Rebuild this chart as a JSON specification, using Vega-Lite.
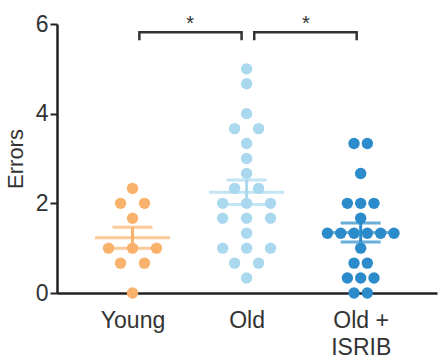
{
  "$schema": "https://vega.github.io/schema/vega-lite/v6.json",
  "autosize": "none",
  "width": 380,
  "height": 269,
  "padding": {"left": 57, "top": 24, "right": 10, "bottom": 67},
  "background": "white",
  "config": {
    "view": {"stroke": null},
    "font": "Liberation Sans"
  },
  "datasets": {
    "scores": [
      {"group": "Young", "value": 2.333}, {"group": "Young", "value": 2}, {"group": "Young", "value": 2},
      {"group": "Young", "value": 1.667}, {"group": "Young", "value": 1}, {"group": "Young", "value": 1},
      {"group": "Young", "value": 1}, {"group": "Young", "value": 0.667}, {"group": "Young", "value": 0.667},
      {"group": "Young", "value": 0},
      {"group": "Old", "value": 5}, {"group": "Old", "value": 4.667}, {"group": "Old", "value": 4},
      {"group": "Old", "value": 3.667}, {"group": "Old", "value": 3.667}, {"group": "Old", "value": 3.333},
      {"group": "Old", "value": 3}, {"group": "Old", "value": 2.667}, {"group": "Old", "value": 2.333},
      {"group": "Old", "value": 2.333}, {"group": "Old", "value": 2}, {"group": "Old", "value": 2},
      {"group": "Old", "value": 2}, {"group": "Old", "value": 1.667}, {"group": "Old", "value": 1.667},
      {"group": "Old", "value": 1.667}, {"group": "Old", "value": 1.333}, {"group": "Old", "value": 1},
      {"group": "Old", "value": 1}, {"group": "Old", "value": 1}, {"group": "Old", "value": 0.667},
      {"group": "Old", "value": 0.667}, {"group": "Old", "value": 0.333},
      {"group": "Old + ISRIB", "value": 3.333}, {"group": "Old + ISRIB", "value": 3.333},
      {"group": "Old + ISRIB", "value": 2.667}, {"group": "Old + ISRIB", "value": 2},
      {"group": "Old + ISRIB", "value": 2}, {"group": "Old + ISRIB", "value": 2},
      {"group": "Old + ISRIB", "value": 1.667}, {"group": "Old + ISRIB", "value": 1.333},
      {"group": "Old + ISRIB", "value": 1.333}, {"group": "Old + ISRIB", "value": 1.333},
      {"group": "Old + ISRIB", "value": 1.333}, {"group": "Old + ISRIB", "value": 1.333},
      {"group": "Old + ISRIB", "value": 1.333}, {"group": "Old + ISRIB", "value": 1},
      {"group": "Old + ISRIB", "value": 0.667}, {"group": "Old + ISRIB", "value": 0.667},
      {"group": "Old + ISRIB", "value": 0.333}, {"group": "Old + ISRIB", "value": 0.333},
      {"group": "Old + ISRIB", "value": 0.333}, {"group": "Old + ISRIB", "value": 0},
      {"group": "Old + ISRIB", "value": 0}
    ],
    "brackets": [
      {"pair": "a", "order": 1, "x": 1.06, "y": 5.64},
      {"pair": "a", "order": 2, "x": 1.06, "y": 5.815},
      {"pair": "a", "order": 3, "x": 1.956, "y": 5.815},
      {"pair": "a", "order": 4, "x": 1.956, "y": 5.64},
      {"pair": "b", "order": 1, "x": 2.067, "y": 5.64},
      {"pair": "b", "order": 2, "x": 2.067, "y": 5.815},
      {"pair": "b", "order": 3, "x": 2.965, "y": 5.815},
      {"pair": "b", "order": 4, "x": 2.965, "y": 5.64}
    ],
    "stars": [
      {"x": 1.505, "y": 6.09, "label": "*"},
      {"x": 2.52, "y": 6.09, "label": "*"}
    ]
  },
  "layer": [
    {
      "data": {"name": "scores"},
      "transform": [
        {"calculate": "indexof(['Young','Old','Old + ISRIB'], datum.group) + 1", "as": "idx"},
        {"window": [{"op": "row_number", "as": "r"}], "groupby": ["group", "value"]},
        {"joinaggregate": [{"op": "count", "as": "n"}], "groupby": ["group", "value"]},
        {"joinaggregate": [{"op": "max", "field": "n", "as": "m"}], "groupby": ["group"]},
        {"calculate": "datum.idx + (datum.r - (datum.n + 1) / 2) * min(0.21, 0.7 / datum.m)", "as": "xpos"}
      ],
      "mark": {"type": "point", "filled": true, "opacity": 1, "size": 130, "clip": false},
      "encoding": {
        "x": {
          "field": "xpos", "type": "quantitative",
          "scale": {"domain": [0.338, 3.669], "nice": false, "zero": false},
          "axis": {
            "title": null,
            "values": [1, 2, 3],
            "ticks": false,
            "grid": false,
            "domainColor": "#222222",
            "domainWidth": 2.5,
            "labelFontSize": 23,
            "labelColor": "#333333",
            "labelPadding": 16,
            "labelLineHeight": 27,
            "labelFlush": false,
            "labelOverlap": false,
            "labelExpr": "datum.value == 1 ? 'Young' : datum.value == 2 ? 'Old' : ['Old +', 'ISRIB']"
          }
        },
        "y": {
          "field": "value", "type": "quantitative",
          "scale": {"domain": [0, 6], "nice": false},
          "axis": {
            "title": "Errors",
            "titleFontSize": 22,
            "titleFontWeight": "normal",
            "titleColor": "#333333",
            "titlePadding": 8,
            "values": [0, 2, 4, 6],
            "grid": false,
            "domainColor": "#222222",
            "domainWidth": 2.5,
            "tickColor": "#222222",
            "tickWidth": 2,
            "tickSize": 7,
            "labelFontSize": 23,
            "labelColor": "#333333",
            "labelPadding": 2,
            "labelFlush": false
          }
        },
        "color": {
          "field": "group", "type": "nominal",
          "scale": {"domain": ["Young", "Old", "Old + ISRIB"], "range": ["#F9B26B", "#AAD9EF", "#2B8BCB"]},
          "legend": null
        }
      }
    },
    {
      "data": {"name": "scores"},
      "transform": [
        {"calculate": "indexof(['Young','Old','Old + ISRIB'], datum.group) + 1", "as": "idx"},
        {"aggregate": [{"op": "mean", "field": "value", "as": "mean"}, {"op": "stderr", "field": "value", "as": "sem"}], "groupby": ["group", "idx"]},
        {"calculate": "datum.mean - datum.sem", "as": "lo"},
        {"calculate": "datum.mean + datum.sem", "as": "hi"}
      ],
      "encoding": {
        "x": {"field": "idx", "type": "quantitative"},
        "color": {"field": "group", "type": "nominal", "legend": null}
      },
      "layer": [
        {"mark": {"type": "rule", "strokeWidth": 3}, "encoding": {"y": {"field": "lo", "type": "quantitative"}, "y2": {"field": "hi"}}},
        {"mark": {"type": "tick", "orient": "horizontal", "size": 40, "thickness": 3}, "encoding": {"y": {"field": "lo", "type": "quantitative"}}},
        {"mark": {"type": "tick", "orient": "horizontal", "size": 40, "thickness": 3}, "encoding": {"y": {"field": "hi", "type": "quantitative"}}},
        {"mark": {"type": "tick", "orient": "horizontal", "size": 75, "thickness": 3}, "encoding": {"y": {"field": "mean", "type": "quantitative"}}}
      ]
    },
    {
      "data": {"name": "brackets"},
      "mark": {"type": "line", "color": "#333333", "strokeWidth": 2.5, "clip": false, "strokeCap": "butt", "strokeJoin": "miter"},
      "encoding": {
        "x": {"field": "x", "type": "quantitative"},
        "y": {"field": "y", "type": "quantitative"},
        "detail": {"field": "pair", "type": "nominal"},
        "order": {"field": "order", "type": "quantitative"}
      }
    },
    {
      "data": {"name": "stars"},
      "mark": {"type": "text", "color": "#333333", "fontSize": 20, "baseline": "middle", "align": "center", "clip": false, "dy": 4},
      "encoding": {
        "x": {"field": "x", "type": "quantitative"},
        "y": {"field": "y", "type": "quantitative"},
        "text": {"field": "label"}
      }
    }
  ]
}
